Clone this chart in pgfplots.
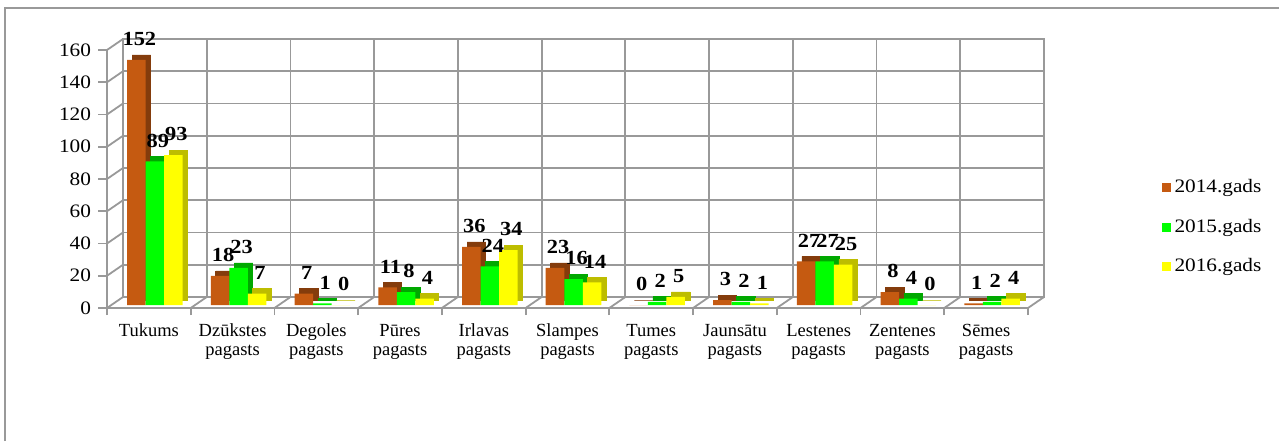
\documentclass[border=0pt]{standalone}
\usepackage{fontspec}
\setmainfont{Liberation Serif}
\newfontfamily\wide{Liberation Serif}[FakeStretch=1.12]
\usepackage{pgfplots}
\usepackage{pgfplotstable}
\pgfplotsset{compat=1.18}

\definecolor{c14}{HTML}{C55A11}
\definecolor{c14d}{HTML}{843C0C}
\definecolor{c15}{HTML}{00FF00}
\definecolor{c15d}{HTML}{00A800}
\definecolor{c16}{HTML}{FFFF00}
\definecolor{c16d}{HTML}{BDBD00}
\definecolor{wall}{HTML}{999999}

% idx: Tukums, Dzukstes, Degoles, Pures, Irlavas, Slampes, Tumes, Jaunsatu, Lestenes, Zentenes, Semes
\pgfplotstableread{
idx y14 y15 y16
0   152 89  93
1   18  23  7
2   7   1   0
3   11  8   4
4   36  24  34
5   23  16  14
6   0   2   5
7   3   2   1
8   27  27  25
9   8   4   0
10  1   2   4
}\data

\begin{document}
\begin{tikzpicture}
\useasboundingbox (0,0) rectangle (639.5pt,220.5pt);
\draw[wall, line width=0.6pt] (2.5pt,0) -- (2.5pt,216.5pt) -- (639.5pt,216.5pt);

% back wall
\begin{axis}[at={(61.5pt,72pt)}, anchor=south west, scale only axis,
  width=460.5pt, height=129pt,
  xmin=-0.5, xmax=10.5, ymin=0, ymax=160,
  xtick={0.5,1.5,...,9.5}, ytick={20,40,...,140},
  xticklabels={}, yticklabels={}, major tick length=0pt,
  grid=major, grid style={wall, line width=0.9pt},
  axis line style={wall, line width=0.9pt}]
  \addplot[draw=none] coordinates {(0,0)};
\end{axis}

% front edges, side wall and floor
\begin{axis}[at={(53.5pt,66.5pt)}, anchor=south west, scale only axis,
  width=460.5pt, height=129pt,
  xmin=-0.5, xmax=10.5, ymin=0, ymax=160,
  axis x line*=bottom, axis y line*=left,
  axis line style={wall, line width=0.9pt, -},
  xtick={0,...,10},
  xticklabels={Tukums,{Dzūkstes\\pagasts},{Degoles\\pagasts},{Pūres\\pagasts},
    {Irlavas\\pagasts},{Slampes\\pagasts},{Tumes\\pagasts},{Jaunsātu\\pagasts},
    {Lestenes\\pagasts},{Zentenes\\pagasts},{Sēmes\\pagasts}},
  minor xtick={-0.5,0.5,...,10.5},
  ytick={0,20,...,160},
  tick align=outside, major tick length=4.5pt, minor tick length=3.5pt,
  tick style={wall, line width=0.9pt},
  major x tick style={draw=none},
  x tick label style={font=\fontsize{9.25}{9.5}\selectfont, align=center, anchor=north},
  y tick label style={font=\fontsize{9.5}{11}\wide},
  /pgf/number format/assume math mode=true,
  clip=false]
  \addplot[quiver={u=0.191,v=6.82}, draw=wall, line width=0.9pt, -] coordinates {
    (-0.5,0) (-0.5,20) (-0.5,40) (-0.5,60) (-0.5,80) (-0.5,100) (-0.5,120) (-0.5,140) (-0.5,160)
    (0.5,0) (1.5,0) (2.5,0) (3.5,0) (4.5,0) (5.5,0) (6.5,0) (7.5,0) (8.5,0) (9.5,0) (10.5,0)
  };
\end{axis}

% bars
\begin{axis}[at={(56.5pt,68pt)}, anchor=south west, scale only axis,
  width=460.5pt, height=129pt,
  xmin=-0.5, xmax=10.5, ymin=0, ymax=160,
  hide axis, clip=false,
  ybar, bar width=0.221,
  /pgf/number format/assume math mode=true,
  every node near coord/.append style={font=\fontsize{10}{12}\wide\bfseries, text=black, xshift=1.5pt, yshift=3.5pt},
  legend style={at={(1.138,0.302)}, anchor=west, draw=none, fill=none, inner sep=0pt,
    font=\fontsize{9.5}{11}\wide, row sep=7.5pt, legend cell align=left},
  legend image code/.code={\fill[#1] (0pt,-2.25pt) rectangle (4.5pt,2.25pt);}]
  \addplot[fill=c14d, draw=c14d, line width=0.4pt, bar shift=-0.221, xshift=2.5pt, yshift=2.5pt, forget plot] table[x=idx,y=y14]{\data};
  \addplot[fill=c14, draw=none, bar shift=-0.221, nodes near coords] table[x=idx,y=y14]{\data};
  \addplot[fill=c15d, draw=c15d, line width=0.4pt, bar shift=0, xshift=2.5pt, yshift=2.5pt, forget plot] table[x=idx,y=y15]{\data};
  \addplot[fill=c15, draw=none, bar shift=0, nodes near coords] table[x=idx,y=y15]{\data};
  \addplot[fill=c16d, draw=c16d, line width=0.4pt, bar shift=0.221, xshift=2.5pt, yshift=2.5pt, forget plot] table[x=idx,y=y16]{\data};
  \addplot[fill=c16, draw=none, bar shift=0.221, nodes near coords] table[x=idx,y=y16]{\data};
  \legend{2014.gads,2015.gads,2016.gads}
\end{axis}
\end{tikzpicture}
\end{document}
